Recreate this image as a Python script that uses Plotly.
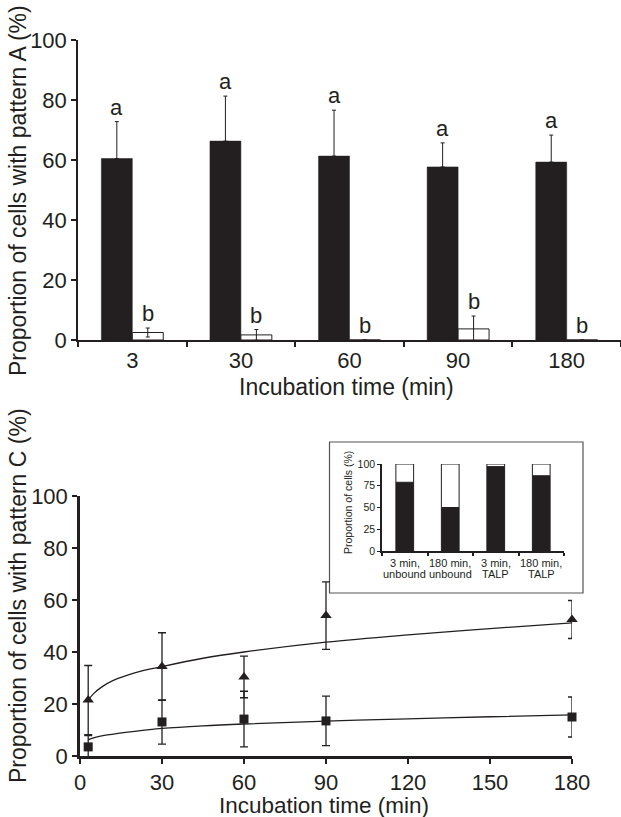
import plotly.graph_objects as go

# ---------------- data ----------------
# Top panel: pattern A
times_top = ["3", "30", "60", "90", "180"]
black_mean = [60.5, 66.3, 61.3, 57.7, 59.3]
black_sd = [12.3, 15.0, 15.3, 8.0, 9.0]
white_mean = [2.5, 1.7, 0.0, 3.7, 0.0]
white_sd = [1.5, 1.8, 0.0, 4.3, 0.0]
black_letters = ["a", "a", "a", "a", "a"]
white_letters = ["b", "b", "b", "b", "b"]

# Bottom panel: pattern C
t_points = [3, 30, 60, 90, 180]
tri_mean = [21.5, 34.4, 30.4, 54.0, 52.5]
tri_sd = [13.3, 13.0, 8.0, 13.0, 7.3]
sq_mean = [3.5, 13.1, 14.2, 13.5, 15.0]
sq_sd = [4.3, 8.5, 10.7, 9.5, 7.7]

# fitted trend curves
tri_fit_t = [3, 5, 8, 12, 20, 30, 45, 60, 90, 120, 150, 180]
tri_fit_y = [21.5, 24.0, 26.6, 29.0, 32.0, 34.4, 37.6, 40.0, 43.8, 46.6, 49.0, 51.2]
sq_fit_t = [3, 5, 10, 20, 30, 45, 60, 90, 120, 150, 180]
sq_fit_y = [6.2, 7.0, 8.1, 9.5, 10.6, 11.6, 12.3, 13.4, 14.3, 15.1, 15.8]

# Inset
inset_cats = ["3 min,|unbound", "180 min,|unbound", "3 min,|TALP", "180 min,|TALP"]
inset_black = [79, 50, 97, 86.5]

x_ticks_bottom = [0, 30, 60, 90, 120, 150, 180]
y_ticks = [0, 20, 40, 60, 80, 100]
y_ticks_inset = [0, 25, 50, 75, 100]

# ---------------- style ----------------
W, H = 621, 817
INK = "#231f20"
FONT = "Liberation Sans, Arial, Helvetica, sans-serif"


def fx(p):
    return p / W


def fy(p):
    return 1 - p / H


BAR_W = 0.285
top_left, top_right = 78, 621
cat_px = (top_right - top_left) / len(times_top)
shift = BAR_W * cat_px / 2

fig = go.Figure()

# Top bars
fig.add_trace(go.Bar(
    x=times_top, y=black_mean, width=BAR_W, offset=-BAR_W,
    marker=dict(color=INK, line=dict(color=INK, width=0.5)),
    error_y=dict(type="data", array=black_sd, arrayminus=[0] * len(black_sd),
                 symmetric=False, color=INK, thickness=1, width=2),
    xaxis="x", yaxis="y", showlegend=False))
fig.add_trace(go.Bar(
    x=times_top, y=white_mean, width=BAR_W, offset=0,
    marker=dict(color="white", line=dict(color=INK, width=1)),
    error_y=dict(type="data", array=white_sd, symmetric=True,
                 color=INK, thickness=1, width=2),
    xaxis="x", yaxis="y", showlegend=False))

# Bottom curves and points
fig.add_trace(go.Scatter(x=tri_fit_t, y=tri_fit_y, mode="lines", line=dict(color=INK, width=1.3, shape="spline"),
                         xaxis="x2", yaxis="y2", showlegend=False, hoverinfo="skip"))
fig.add_trace(go.Scatter(x=sq_fit_t, y=sq_fit_y, mode="lines", line=dict(color=INK, width=1.3, shape="spline"),
                         xaxis="x2", yaxis="y2", showlegend=False, hoverinfo="skip"))
fig.add_trace(go.Scatter(
    x=t_points, y=tri_mean, mode="markers",
    marker=dict(symbol="triangle-up", size=10, color=INK),
    error_y=dict(type="data", array=tri_sd, color=INK, thickness=1.3, width=4),
    xaxis="x2", yaxis="y2", showlegend=False, cliponaxis=False))
fig.add_trace(go.Scatter(
    x=t_points, y=sq_mean, mode="markers",
    marker=dict(symbol="square", size=9, color=INK),
    error_y=dict(type="data", array=sq_sd, color=INK, thickness=1.3, width=4),
    xaxis="x2", yaxis="y2", showlegend=False, cliponaxis=False))

# Inset stacked bars
fig.add_trace(go.Bar(
    x=inset_cats, y=inset_black, width=0.39,
    marker=dict(color=INK, line=dict(color=INK, width=1)),
    xaxis="x3", yaxis="y3", showlegend=False))
fig.add_trace(go.Bar(
    x=inset_cats, y=[100 - v for v in inset_black], base=inset_black, width=0.39,
    marker=dict(color="white", line=dict(color=INK, width=1)),
    xaxis="x3", yaxis="y3", showlegend=False))

axis_common = dict(showgrid=False, zeroline=False, showline=True, linecolor=INK, automargin=False,
                   ticks="outside", tickcolor=INK, tickfont=dict(family=FONT, size=22, color=INK))

fig.update_layout(
    template="none",
    width=W, height=H,
    margin=dict(l=0, r=0, t=0, b=0, pad=0, autoexpand=False),
    paper_bgcolor="white", plot_bgcolor="rgba(0,0,0,0)",
    barmode="overlay",
    font=dict(family=FONT, color=INK),
    xaxis=dict(axis_common, domain=[fx(top_left), fx(top_right)], type="category",
               range=[-0.5, 4.5], tickson="boundaries", ticklen=5, tickwidth=1.5,
               linewidth=1.5, anchor="y"),
    yaxis=dict(axis_common, domain=[fy(340), fy(40)], range=[0, 100], tickvals=y_ticks,
               ticklen=5, tickwidth=1.5, linewidth=1.5, anchor="x"),
    xaxis2=dict(axis_common, domain=[fx(80), fx(572)], range=[0, 180], tickvals=x_ticks_bottom,
                ticklen=5, tickwidth=2, linewidth=2.5, anchor="y2"),
    yaxis2=dict(axis_common, domain=[fy(756), fy(496)], range=[0, 100], tickvals=y_ticks,
                ticklen=5, tickwidth=2, linewidth=2.5, anchor="x2"),
    xaxis3=dict(axis_common, domain=[fx(382), fx(564)], type="category", range=[-0.5, 3.5],
                tickson="boundaries", ticklen=3, tickwidth=1.5, linewidth=1.5,
                showticklabels=False, anchor="y3"),
    yaxis3=dict(axis_common, domain=[fy(551), fy(464)], range=[0, 100], tickvals=y_ticks_inset,
                ticklen=3, tickwidth=1, linewidth=1.5, anchor="x3",
                tickfont=dict(family=FONT, size=10.5, color=INK)),
)

ann = []
# significance letters (category axis: position by category index)
for i, (m, s, l) in enumerate(zip(black_mean, black_sd, black_letters)):
    ann.append(dict(x=i, y=m + s, xref="x", yref="y", text=l, showarrow=False, xshift=-shift,
                    yanchor="bottom", font=dict(family=FONT, size=22, color=INK)))
for i, (m, s, l) in enumerate(zip(white_mean, white_sd, white_letters)):
    ann.append(dict(x=i, y=m + s, xref="x", yref="y", text=l, showarrow=False, xshift=shift,
                    yanchor="bottom", font=dict(family=FONT, size=22, color=INK)))

# axis titles
title_font = dict(family=FONT, size=23, color=INK)
ann.append(dict(x=fx(18), y=fy(191), xref="paper", yref="paper", text="Proportion of cells with pattern A (%)",
                textangle=-90, showarrow=False, font=title_font, xanchor="center", yanchor="middle"))
ann.append(dict(x=fx(346), y=fy(387), xref="paper", yref="paper", text="Incubation time (min)",
                showarrow=False, font=title_font, xanchor="center", yanchor="middle"))
ann.append(dict(x=fx(18), y=fy(596), xref="paper", yref="paper", text="Proportion of cells with pattern C (%)",
                textangle=-90, showarrow=False, font=title_font, xanchor="center", yanchor="middle"))
ann.append(dict(x=fx(324), y=fy(805), xref="paper", yref="paper", text="Incubation time (min)",
                showarrow=False, font=dict(family=FONT, size=22.5, color=INK),
                xanchor="center", yanchor="middle"))
ann.append(dict(x=fx(348), y=fy(503), xref="paper", yref="paper", text="Proportion of cells (%)",
                textangle=-90, showarrow=False, font=dict(family=FONT, size=10.5, color=INK),
                xanchor="center", yanchor="middle"))

# inset category labels (two lines each)
for i, c in enumerate(inset_cats):
    first, second = c.split("|")
    ann.append(dict(x=i, y=fy(563), xref="x3", yref="paper", text=first, showarrow=False,
                    font=dict(family=FONT, size=11, color=INK), yanchor="middle"))
    ann.append(dict(x=i, y=fy(574), xref="x3", yref="paper", text=second, showarrow=False,
                    font=dict(family=FONT, size=11, color=INK), yanchor="middle"))

fig.update_layout(annotations=ann)

# inset frame
fig.add_shape(type="rect", xref="paper", yref="paper", x0=fx(329.5), x1=fx(583), y0=fy(593), y1=fy(442),
              line=dict(color="#555555", width=1.2), layer="below")

fig.write_html("out.html")
